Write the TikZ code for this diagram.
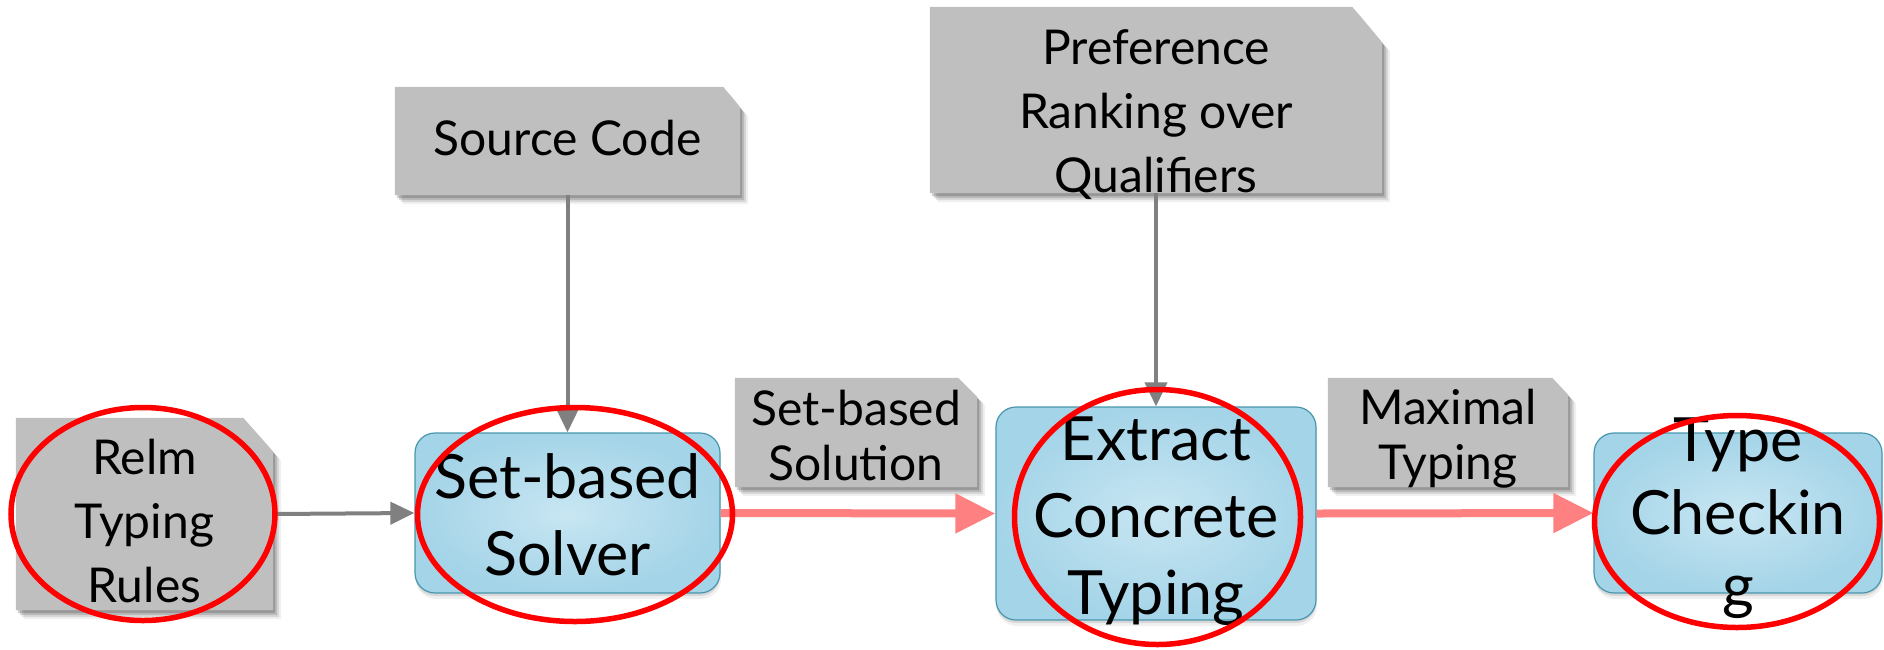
\documentclass[tikz,border=0pt]{standalone}
\usepackage{fontspec}
\setmainfont{Lato}
\usetikzlibrary{shadows,arrows.meta,backgrounds,shapes.geometric}

\definecolor{notegray}{RGB}{191,191,191}
\definecolor{linkgray}{RGB}{128,128,128}
\definecolor{boxedge}{RGB}{72,150,172}
\definecolor{boxin}{RGB}{200,230,242}
\definecolor{boxout}{RGB}{164,212,232}
\definecolor{flowred}{RGB}{255,128,128}
\definecolor{markred}{RGB}{255,0,0}

\begin{document}
\begin{tikzpicture}[x=1pt,y=-1pt,
  note/.style={rectangle, inner sep=0pt},
  % soft shadow built from a few stacked, faint copies
  softshadow/.style={
    drop shadow={shadow xshift=2pt, shadow yshift=-3pt, opacity=0.18, fill=black},
    drop shadow={shadow xshift=4pt, shadow yshift=-5pt, opacity=0.14, fill=black},
    drop shadow={shadow xshift=6pt, shadow yshift=-7pt, opacity=0.10, fill=black},
    drop shadow={shadow xshift=8pt, shadow yshift=-9pt, opacity=0.06, fill=black}},
  notefill/.style={fill=notegray, softshadow},
  notetext/.style={align=center, font=\fontsize{48}{64}\selectfont},
  smalltext/.style={align=center, font=\fontsize{48}{55}\selectfont},
  stagebox/.style={rectangle, rounded corners=20pt, draw=boxedge, line width=1.2pt,
    inner color=boxin, outer color=boxout, inner sep=0pt,
    drop shadow={shadow xshift=0pt, shadow yshift=-3pt, opacity=0.10, fill=black},
    drop shadow={shadow xshift=1pt, shadow yshift=-6pt, opacity=0.06, fill=black}},
  bigtext/.style={align=center, font=\fontsize{61}{77}\selectfont},
  feed/.style={draw=linkgray, line width=4pt, -{Triangle[length=24pt,width=22pt]}},
  flow/.style={draw=flowred, line width=8pt, -{Triangle[length=40pt,width=38pt]}},
  redring/.style={ellipse, draw=markred, line width=5.5pt, inner sep=0pt}
]
\useasboundingbox (0,0) rectangle (1884,649);

% input notes (outline drawn on the background layer below)
\node[note, minimum width=257pt, minimum height=192pt,
  label={[name=relmtext, notetext, yshift=-7pt]center:Relm\\Typing\\Rules}]
  (relm) at (144.5,514) {};
\node[note, minimum width=345pt, minimum height=108pt,
  label={[name=sourcetext, notetext, yshift=3pt]center:Source Code}]
  (source) at (567.5,141) {};
\node[note, minimum width=452pt, minimum height=186pt,
  label={[name=preftext, notetext, yshift=-15pt]center:Preference\\Ranking over\\Qualifiers}]
  (pref) at (1156,100) {};

% intermediate results
\node[note, minimum width=242pt, minimum height=109pt,
  label={[name=sbsoltext, smalltext, yshift=-3pt]center:Set-based\\Solution}]
  (sbsol) at (856,432.5) {};
\node[note, minimum width=240pt, minimum height=109pt,
  label={[name=maxttext, smalltext, yshift=-6pt]center:Maximal\\Typing}]
  (maxt) at (1448,432.5) {};

% note outlines with the clipped top-right corner
\begin{scope}[on background layer]
  \foreach \n/\cx/\cy in {relm/30/34, source/17/21, pref/30/36, sbsol/19/19, maxt/16/17}{
    \fill[notefill] (\n.north west) -- ([xshift=-\cx pt]\n.north east)
      -- ([yshift=-\cy pt]\n.north east) -- (\n.south east) -- (\n.south west) -- cycle;
  }
\end{scope}

% processing stages
\node[stagebox, minimum width=305pt, minimum height=160pt,
  label={[name=solvertext, bigtext, yshift=-2pt]center:Set-based\\Solver}]
  (solver) at (567.5,513) {};
\node[stagebox, minimum width=320pt, minimum height=213pt,
  label={[name=extracttext, bigtext, yshift=-8pt]center:Extract\\Concrete\\Typing}]
  (extract) at (1156,513.5) {};
\node[stagebox, minimum width=288pt, minimum height=160pt,
  label={[name=tctext, align=center, font=\fontsize{61}{73}\selectfont, yshift=-5pt]center:Type\\Checkin\\g}]
  (tc) at (1738,513) {};

% connectors
\draw[feed] (relm.east) -- (solver.west);
\draw[feed] (source.south) -- (solver.north);
\draw[feed] (pref.south) -- (extract.north);
\draw[flow] (solver.east) -- (extract.west);
\draw[flow] (extract.east) -- (tc.west);

% highlight rings
\node[redring, minimum width=264pt, minimum height=213pt] (ring1) at (143,514) {};
\node[redring, minimum width=315pt, minimum height=214pt] (ring2) at (575,514.5) {};
\node[redring, minimum width=286pt, minimum height=255pt] (ring3) at (1157.5,517) {};
\node[redring, minimum width=285pt, minimum height=212pt] (ring4) at (1737,521.5) {};
\end{tikzpicture}
\end{document}
